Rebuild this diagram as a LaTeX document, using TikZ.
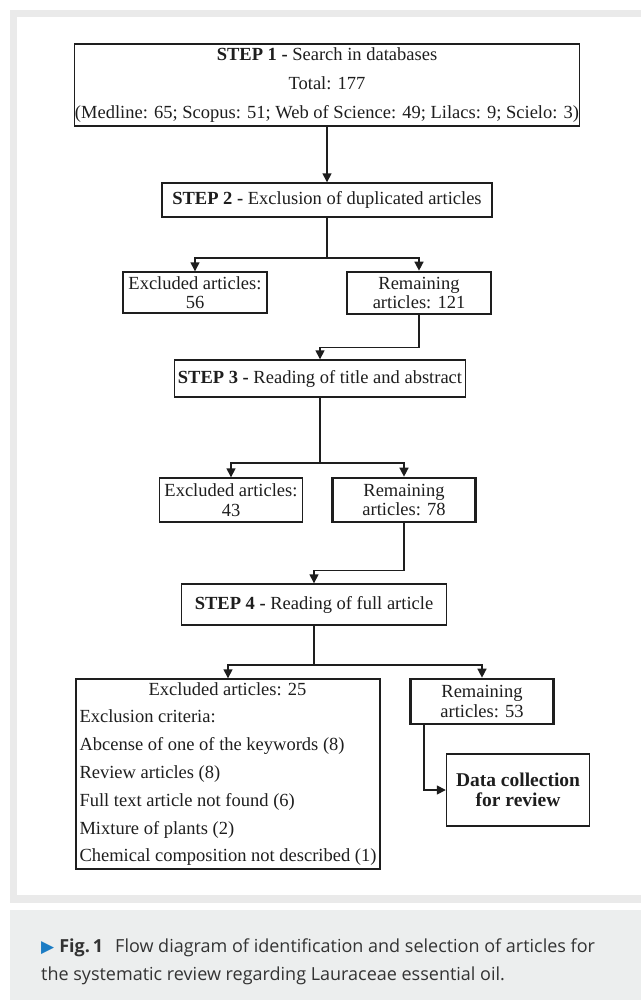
\documentclass[tikz,border=0pt]{standalone}
\usepackage{fontspec}
\setmainfont{Liberation Serif}
\newfontfamily\capfont{Open Sans}
\newfontfamily\symfont{DejaVu Sans}
\usepackage{xcolor}
\usepackage{tikz}
\usetikzlibrary{arrows.meta,positioning}
\definecolor{Frame}{HTML}{EAEAEA}
\definecolor{CapBg}{HTML}{ECEEEE}
\definecolor{Ink}{HTML}{1E1E1E}
\definecolor{CapInk}{HTML}{333333}
\definecolor{Marker}{HTML}{1B7CC4}

\begin{document}
\begin{tikzpicture}[x=1pt,y=-1pt,
  every node/.style={text=Ink,font=\fontsize{18.5}{19.5}\selectfont,align=center,inner sep=0pt},
  stepbox/.style={draw=Ink,line width=1.4pt},
  keepbox/.style={draw=Ink,line width=2.7pt},
  flow/.style={draw=Ink,line width=1.5pt,-{Triangle[length=9pt,width=9pt]}}]
  \useasboundingbox (0,0) rectangle (641,1000);
  \fill[Frame] (10,10) rectangle (641,903);
  \fill[white] (17,17) rectangle (641,895);
  \fill[CapBg] (10,910) rectangle (641,1000);

  \node[stepbox,minimum width=505pt,minimum height=82pt,font=\fontsize{18.5}{29}\selectfont] (step1) at (327,85) {\textbf{STEP 1 -} Search in databases\\Total: 177\\(Medline: 65; Scopus: 51; Web of Science: 49; Lilacs: 9; Scielo: 3)};
  \node[stepbox,minimum width=330pt,minimum height=34pt] (step2) at (327,200) {\textbf{STEP 2 -} Exclusion of duplicated articles};
  \node[stepbox,minimum width=144pt,minimum height=41pt] (excl1) at (195,292.5) {Excluded articles:\\56};
  \node[keepbox,minimum width=144pt,minimum height=42pt] (keep1) at (419,293) {Remaining\\articles: 121};
  \node[stepbox,minimum width=291pt,minimum height=37pt] (step3) at (320,378.5) {\textbf{STEP 3 -} Reading of title and abstract};
  \node[stepbox,minimum width=143pt,minimum height=44pt] (excl2) at (231,500) {Excluded articles:\\43};
  \node[keepbox,minimum width=143pt,minimum height=44pt] (keep2) at (404,500) {Remaining\\articles: 78};
  \node[stepbox,minimum width=265pt,minimum height=41pt] (step4) at (314,604.5) {\textbf{STEP 4 -} Reading of full article};
  \node[stepbox,minimum width=304pt,minimum height=190pt,align=left,font=\fontsize{18.5}{27.8}\selectfont] (excl3) at (228,774) {\makebox[296pt]{Excluded articles: 25}\\Exclusion criteria:\\Abcense of one of the keywords (8)\\Review articles (8)\\Full text article not found (6)\\Mixture of plants (2)\\Chemical composition not described (1)};
  \node[keepbox,minimum width=143pt,minimum height=45pt] (keep3) at (482,701.5) {Remaining\\articles: 53};
  \node[stepbox,minimum width=143pt,minimum height=72pt,font=\fontsize{19.5}{20}\selectfont\bfseries] (data) at (518,790) {Data collection\\for review};

  \coordinate (fork1) at (327,258);
  \coordinate (fork2) at (320,463);
  \coordinate (fork3) at (314,665);
  \draw[flow] (step1) -- (step2);
  \draw[flow] (step2.south) -- (fork1) -| (excl1.north);
  \draw[flow] (fork1) -| (keep1.north);
  \draw[flow] (keep1.south) -- ++(0,32) -| (step3.north);
  \draw[flow] (step3.south) -- (fork2) -| (excl2.north);
  \draw[flow] (fork2) -| (keep2.north);
  \draw[flow] (keep2.south) -- ++(0,47) -| (step4.north);
  \draw[flow] (step4.south) -- (fork3) -| (excl3.north);
  \draw[flow] (fork3) -| (keep3.north);
  \draw[flow] ([xshift=-58pt]keep3.south) |- (data.west);

  \node[anchor=base west,align=left,text=CapInk,font=\capfont\fontsize{18}{28}\selectfont] (cap) at (41,980) {{\symfont\fontsize{17}{17}\selectfont\textcolor{Marker}{▶}}\hspace{5pt}\textbf{Fig.\,1}\hspace{12pt}Flow diagram of identification and selection of articles for\\the systematic review regarding Lauraceae essential oil.};
\end{tikzpicture}
\end{document}
